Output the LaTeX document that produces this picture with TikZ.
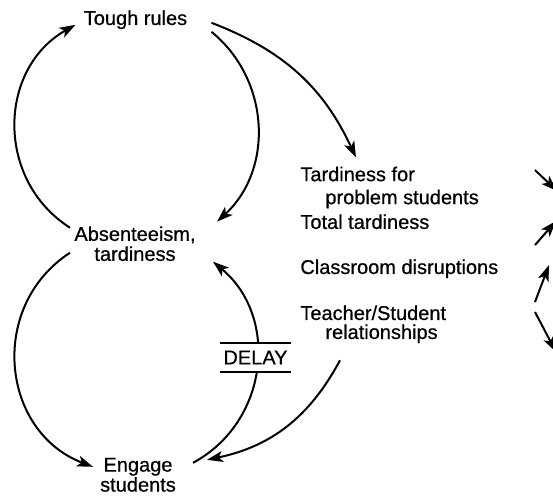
\documentclass[tikz,border=0pt]{standalone}
\usepackage{fontspec}
\setmainfont{Liberation Sans}[FakeBold=0.6]
\usetikzlibrary{arrows.meta}

\begin{document}
\begin{tikzpicture}[x=.5pt, y=-.5pt,
  lbl/.style={font=\fontsize{10}{10}\selectfont, inner sep=2pt, align=center},
  item/.style={lbl, align=left, anchor=west},
  link/.style={-{Stealth[length=8pt, width=5.5pt, inset=2pt]}, line width=1pt}]
\useasboundingbox (0,0) rectangle (553,495);
\clip (0,0) rectangle (553,495);

% \draw[gray, very thin, step=50] (0,0) grid (553,495);

\node[lbl] (tough) at (135.5,19.8) {Tough rules};
\node[lbl] (absent) at (135,243.7) {Absenteeism,\\tardiness};
\node[lbl] (engage) at (138,474.8) {Engage\\students};

\node[item] (tardy) at (296,187.5) {Tardiness for\\[1.5pt]\hspace*{12.5pt}problem students};
\node[item] (total) at (296,221.7) {Total tardiness};
\node[item] (disrupt) at (296,268.8) {Classroom disruptions};
\node[item] (teach) at (296,324.3) {Teacher/Student\\[-.5pt]\hspace*{12.5pt}relationships};

\draw[link] ([xshift=38pt,yshift=-6pt]tough.center) to[bend left=49, looseness=1.03] ([xshift=41pt,yshift=11pt]absent.center);
\draw[link] ([xshift=-32.5pt,yshift=8pt]absent.center) to[bend left=59, looseness=1.12] ([xshift=-30pt,yshift=-2.5pt]tough.center);
\draw[link] ([xshift=-32.5pt,yshift=-4.5pt]absent.center) to[bend right=63, looseness=1.17] ([xshift=-22.5pt,yshift=4pt]engage.center);
\draw[link] ([xshift=27.5pt,yshift=6pt]engage.center) to[bend right=56, looseness=1.09] ([xshift=39pt,yshift=-9pt]absent.center);

\draw[link] ([xshift=38pt,yshift=-1.5pt]tough.center) to[bend left=22] ([xshift=30pt,yshift=15pt]tardy.west);
\draw[link] ([xshift=22pt,yshift=-18pt]teach.west) to[bend left=25] ([xshift=34.5pt,yshift=7.5pt]engage.center);

\node[lbl, fill=white, inner xsep=1.5pt, inner ysep=3.4pt] (delay) at (255.5,357.5) {DELAY};
\draw[line width=1pt] (delay.north west) -- (delay.north east);
\draw[line width=1pt] (delay.south west) -- (delay.south east);

% links running off the right edge
\coordinate (r1a) at (535,170); \coordinate (r1b) at (557,191);
\coordinate (r2a) at (535,245); \coordinate (r2b) at (556,221);
\coordinate (r3a) at (535,302); \coordinate (r3b) at (549,265);
\coordinate (r4a) at (535,312); \coordinate (r4b) at (556,352);
\foreach \n in {1,...,4}
  \draw[link] (r\n a) -- (r\n b);

\end{tikzpicture}
\end{document}
